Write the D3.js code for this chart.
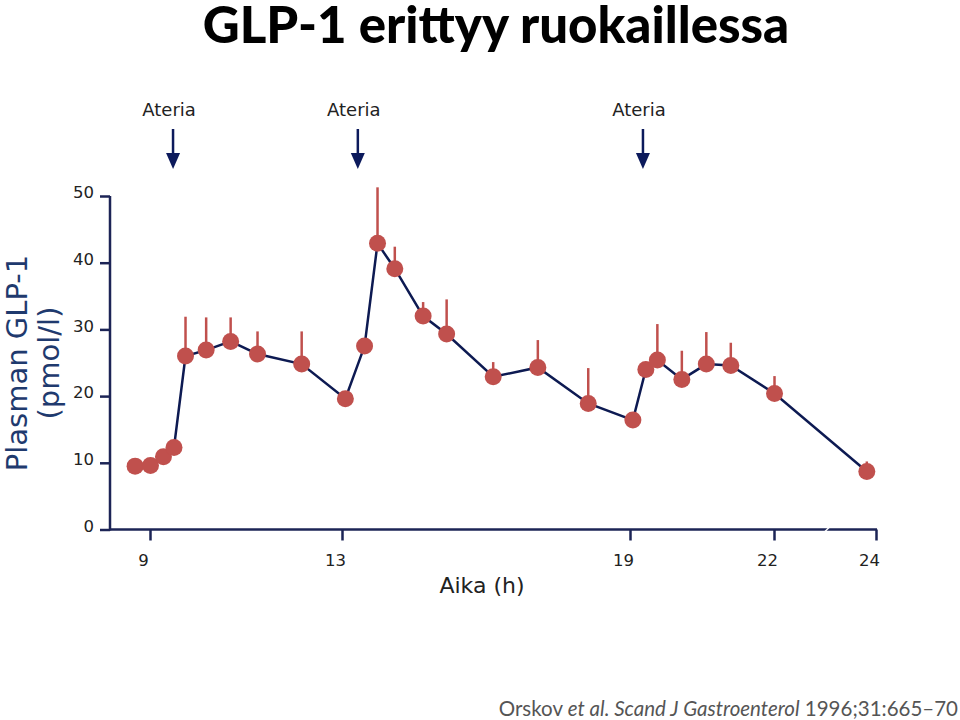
<!DOCTYPE html>
<html><head><meta charset="utf-8">
<script src="https://cdn.jsdelivr.net/npm/d3@7"></script>
<style>body{margin:0;background:#fff}</style>
</head><body>
<script>
// Data
const times = [8.69, 9.01, 9.28, 9.5, 9.74, 10.17, 10.68, 11.24, 12.16, 13.07, 13.47, 13.74, 14.1, 14.69, 15.18, 16.15, 17.08, 18.13, 19.06, 19.33, 19.57, 20.08, 20.59, 21.1, 22.01, 23.82];
const glp1 = [9.5, 9.6, 10.9, 12.3, 26.0, 26.9, 28.2, 26.3, 24.8, 19.6, 27.5, 42.9, 39.1, 32.0, 29.3, 22.9, 24.3, 18.9, 16.4, 24.0, 25.4, 22.5, 24.8, 24.6, 20.4, 8.7];
const sem = [0, 0, 0, 0, 5.9, 4.9, 3.6, 3.4, 4.9, 0, 0, 8.4, 3.3, 2.1, 5.2, 2.2, 4.1, 5.3, 0, 0, 5.4, 4.3, 4.8, 3.4, 2.6, 1.5];
const xTicks = [9, 13, 19, 22, 24];
const yTicks = [0, 10, 20, 30, 40, 50];
const meals = [9.48, 13.33, 19.27];
const mealLabel = "Ateria";

const W = 960, H = 720;
const svg = d3.select("body").append("svg").attr("width", W).attr("height", H);

const x = d3.scaleLinear().domain([8.1667, 22, 24]).range([110, 774, 876]);
const y = d3.scaleLinear().domain([0, 50]).range([529.5, 196]);
const navy = "#1c2456";
const red = "#c0504d";
const sans = "'DejaVu Sans', Verdana, sans-serif";

// Title
svg.append("text").attr("x", 496).attr("y", 43).attr("text-anchor", "middle")
  .attr("font-family", "Lato, 'Open Sans', sans-serif").attr("font-weight", "900")
  .attr("font-size", 51).attr("fill", "#000").text("GLP-1 erittyy ruokaillessa");

// Y axis
const yAxis = d3.axisLeft(y).tickValues(yTicks).tickSize(10).tickPadding(6);
const gy = svg.append("g").attr("transform", "translate(110,0)").call(yAxis);
gy.select(".domain").attr("stroke", navy).attr("stroke-width", 2.5).attr("d", `M0,${y(0)+1}V${y(50)}`);
gy.selectAll(".tick line").attr("stroke", navy).attr("stroke-width", 2.5);
gy.selectAll(".tick text").attr("font-family", sans).attr("font-size", 16.5).attr("fill", "#222").attr("dy", "0.1em");

// X axis
const xAxis = d3.axisBottom(x).tickValues(xTicks).tickFormat(d3.format("d")).tickSize(11).tickPadding(14);
const gx = svg.append("g").attr("transform", `translate(0,${y(0)})`).call(xAxis);
gx.select(".domain").attr("stroke", navy).attr("stroke-width", 2.5).attr("d", `M${x(8.1667)-1},0H${x(24)+1}`);
gx.selectAll(".tick line").attr("stroke", navy).attr("stroke-width", 2.5);
gx.selectAll(".tick text").attr("font-family", sans).attr("font-size", 16.5).attr("fill", "#222").attr("dx", -7);

// small axis break mark
svg.append("line").attr("x1", 824).attr("y1", y(0)+3).attr("x2", 830).attr("y2", y(0)-3)
  .attr("stroke", "#fff").attr("stroke-width", 1.5);

// Axis titles
svg.append("text").attr("x", 482).attr("y", 593).attr("text-anchor", "middle")
  .attr("font-family", sans).attr("font-size", 22).attr("fill", "#222").text("Aika (h)");
const yl = svg.append("text").attr("transform", "translate(0,363) rotate(-90)").attr("text-anchor", "middle")
  .attr("font-family", sans).attr("font-size", 29).attr("fill", "#1f3a6e");
yl.append("tspan").attr("x", 0).attr("y", 27).text("Plasman GLP-1");
yl.append("tspan").attr("x", 0).attr("y", 59).text("(pmol/l)");

// Meals
const mg = svg.append("g").selectAll("g").data(meals).join("g").attr("transform", d => `translate(${x(d)},0)`);
mg.append("text").attr("x", -4).attr("y", 116).attr("text-anchor", "middle")
  .attr("font-family", sans).attr("font-size", 18).attr("fill", "#222").text(mealLabel);
mg.append("line").attr("y1", 129).attr("y2", 156).attr("stroke", "#0c1a5c").attr("stroke-width", 2.5);
mg.append("path").attr("d", "M-7,153L7,153L0,169Z").attr("fill", "#0c1a5c");

const pts = times.map((t, i) => ({t, v: glp1[i], e: sem[i]}));

// Error bars
svg.append("g").selectAll("line").data(pts.filter(d => d.e > 0)).join("line")
  .attr("x1", d => x(d.t)).attr("x2", d => x(d.t))
  .attr("y1", d => y(d.v)).attr("y2", d => y(d.v + d.e))
  .attr("stroke", red).attr("stroke-width", 2.5);

// Line
svg.append("path").datum(pts)
  .attr("d", d3.line().x(d => x(d.t)).y(d => y(d.v)))
  .attr("fill", "none").attr("stroke", "#0d1a52").attr("stroke-width", 2.5);

// Markers
svg.append("g").selectAll("circle").data(pts).join("circle")
  .attr("cx", d => x(d.t)).attr("cy", d => y(d.v)).attr("r", 8.5).attr("fill", red);

// Footnote
const fn = svg.append("text").attr("x", 958).attr("y", 716).attr("text-anchor", "end")
  .attr("font-family", "Lato, 'Open Sans', sans-serif").attr("font-size", 20.5).attr("fill", "#555");
fn.append("tspan").text("Orskov ");
fn.append("tspan").attr("font-style", "italic").text("et al. Scand J Gastroenterol");
fn.append("tspan").text(" 1996;31:665–70");
</script>
</body></html>
